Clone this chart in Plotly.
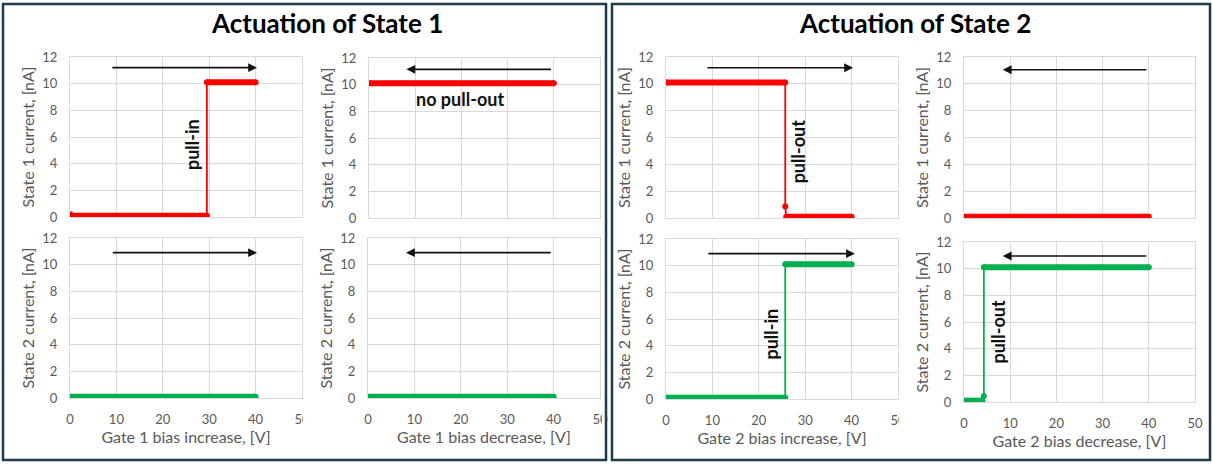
import plotly.graph_objects as go

W, H = 1213, 466

# ---------------- data ----------------
# State 1 current vs Gate 1 bias increase / decrease
s1_g1_inc_x = [0, 0.4, 29.5, 29.5, 40]
s1_g1_inc_y = [0.2, 0.1, 0.1, 10.1, 10.1]
s1_g1_dec_x = [0, 40]
s1_g1_dec_y = [10.1, 10.1]
# State 2 current vs Gate 1 bias increase / decrease
s2_g1_inc_x = [0, 40]
s2_g1_inc_y = [0.1, 0.1]
s2_g1_dec_x = [0, 40]
s2_g1_dec_y = [0.1, 0.1]
# State 1 current vs Gate 2 bias increase / decrease
s1_g2_inc_x = [0, 25.7, 25.7, 25.9, 40]
s1_g2_inc_y = [10.1, 10.1, 0.85, 0.1, 0.1]
s1_g2_dec_x = [0, 40]
s1_g2_dec_y = [0.1, 0.1]
# State 2 current vs Gate 2 bias increase / decrease
s2_g2_inc_x = [0, 25.7, 25.7, 40]
s2_g2_inc_y = [0.1, 0.1, 10.1, 10.1]
s2_g2_dec_x = [0, 4.0, 4.3, 4.3, 40]
s2_g2_dec_y = [0.1, 0.1, 0.45, 10.1, 10.1]

# sweep-direction arrows (one per sub-chart)
arrow_from_x = [8.8, 39.7, 8.9, 39.7, 8.6, 39.8, 8.8, 39.8]
arrow_to_x = [40.3, 8.1, 40.3, 8.2, 40.3, 8.4, 40.7, 8.4]
arrow_y = [11.2, 11.15, 10.9, 10.9, 11.2, 11.05, 10.9, 10.95]

panel_titles = ["Actuation of State 1", "Actuation of State 2"]
y_titles = ["State 1 current, [nA]", "State 1 current, [nA]",
            "State 2 current, [nA]", "State 2 current, [nA]",
            "State 1 current, [nA]", "State 1 current, [nA]",
            "State 2 current, [nA]", "State 2 current, [nA]"]
x_titles = ["", "", "Gate 1 bias increase, [V]", "Gate 1 bias decrease, [V]",
            "", "", "Gate 2 bias increase, [V]", "Gate 2 bias decrease, [V]"]
x_ticks = [0, 10, 20, 30, 40, 50]
y_ticks = [0, 2, 4, 6, 8, 10, 12]

note_text = ["pull-in", "no pull-out", "pull-out", "pull-in", "pull-out"]
note_panel = [0, 1, 4, 6, 7]
note_x = [26.3, 19.6, 28.4, 22.6, 7.4]
note_y = [5.4, 8.9, 4.95, 4.9, 5.3]
note_angle = [-90, 0, -90, -90, -90]

RED = "#ff0000"
GREEN = "#00b050"
curves = [
    (s1_g1_inc_x, s1_g1_inc_y, RED),
    (s1_g1_dec_x, s1_g1_dec_y, RED),
    (s2_g1_inc_x, s2_g1_inc_y, GREEN),
    (s2_g1_dec_x, s2_g1_dec_y, GREEN),
    (s1_g2_inc_x, s1_g2_inc_y, RED),
    (s1_g2_dec_x, s1_g2_dec_y, RED),
    (s2_g2_inc_x, s2_g2_inc_y, GREEN),
    (s2_g2_dec_x, s2_g2_dec_y, GREEN),
]

# ---------------- layout (pixel boxes of plot areas) ----------------
boxes = [(70, 302, 57, 217), (369, 600, 58, 218), (70, 302, 238, 398), (368, 600, 238, 398),
         (666, 898, 57, 218), (964, 1195, 57, 218), (666, 898, 239, 399), (964, 1195, 242, 402)]

FONT = "Lato, 'Open Sans', sans-serif"
GREY = "#595959"
GRID = "#d9d9d9"

fig = go.Figure()
layout = dict(width=W, height=H, margin=dict(l=0, r=0, t=0, b=0, autoexpand=False),
              paper_bgcolor="white", plot_bgcolor="white", showlegend=False,
              font=dict(family=FONT, color=GREY))

annotations = []
for i, (bx0, bx1, by0, by1) in enumerate(boxes):
    xa = "xaxis" if i == 0 else f"xaxis{i+1}"
    ya = "yaxis" if i == 0 else f"yaxis{i+1}"
    xr = "x" if i == 0 else f"x{i+1}"
    yr = "y" if i == 0 else f"y{i+1}"
    bottom = x_titles[i] != ""
    layout[xa] = dict(domain=[bx0 / W, bx1 / W], anchor=yr, range=[0, 50], automargin=False,
                      tickvals=x_ticks, showticklabels=bottom,
                      tickfont=dict(size=13, color=GREY),
                      ticklabelstandoff=9,
                      showgrid=True, gridcolor=GRID, gridwidth=1, zeroline=False,
                      showline=True, linecolor=GRID, mirror=True, ticks="",
                      title=dict(text=x_titles[i], font=dict(size=16, color=GREY), standoff=5))
    layout[ya] = dict(domain=[1 - by1 / H, 1 - by0 / H], anchor=xr, range=[0, 12], automargin=False,
                      tickvals=y_ticks, tickfont=dict(size=13, color=GREY),
                      ticklabelstandoff=9,
                      showgrid=True, gridcolor=GRID, gridwidth=1, zeroline=False,
                      showline=True, linecolor=GRID, mirror=True, ticks="",
                      title=dict(text=y_titles[i], font=dict(size=16, color=GREY), standoff=3))

    cx, cy, col = curves[i]
    # thin connecting line through all points
    fig.add_trace(go.Scatter(x=cx, y=cy, mode="lines", line=dict(color=col, width=1.8),
                             xaxis=xr, yaxis=yr, hoverinfo="skip"))
    # thick plateau runs (dense measured points look like a thick band)
    run_x, run_y = [cx[0]], [cy[0]]
    for k in range(1, len(cx)):
        if abs(cy[k] - cy[k - 1]) < 0.3:
            run_x.append(cx[k]); run_y.append(cy[k])
        else:
            if len(run_x) > 1:
                fig.add_trace(go.Scatter(x=run_x, y=run_y, mode="lines",
                                         line=dict(color=col, width=6),
                                         xaxis=xr, yaxis=yr, hoverinfo="skip"))
            run_x, run_y = [cx[k]], [cy[k]]
    if len(run_x) > 1:
        fig.add_trace(go.Scatter(x=run_x, y=run_y, mode="lines",
                                 line=dict(color=col, width=6),
                                 xaxis=xr, yaxis=yr, hoverinfo="skip"))
    fig.add_trace(go.Scatter(x=cx, y=cy, mode="markers", marker=dict(color=col, size=6),
                             xaxis=xr, yaxis=yr))

    annotations.append(dict(x=arrow_to_x[i], y=arrow_y[i], ax=arrow_from_x[i], ay=arrow_y[i],
                            xref=xr, yref=yr, axref=xr, ayref=yr, text="", showarrow=True,
                            arrowhead=2, arrowsize=1.1, arrowwidth=1.6, arrowcolor="#111111"))

for t, p, nx, ny, ang in zip(note_text, note_panel, note_x, note_y, note_angle):
    xr = "x" if p == 0 else f"x{p+1}"
    yr = "y" if p == 0 else f"y{p+1}"
    annotations.append(dict(x=nx, y=ny, xref=xr, yref=yr, text=f"<b>{t}</b>", showarrow=False,
                            textangle=ang, font=dict(size=18, color="#111111", family=FONT)))

for k, t in enumerate(panel_titles):
    annotations.append(dict(x=[327, 915][k] / W, y=1 - 23 / H, xref="paper", yref="paper",
                            text=f"<b>{t}</b>", showarrow=False, xanchor="center", yanchor="middle",
                            font=dict(size=26, color="#000000", family=FONT)))

layout["annotations"] = annotations

shapes = []
# crop of the "50" labels at the chart-picture edges
for (mx0, mx1, my0, my1) in [(303, 313, 406, 430), (602, 606, 406, 430), (899, 910, 407, 431)]:
    shapes.append(dict(type="rect", xref="paper", yref="paper", x0=mx0 / W, x1=mx1 / W,
                       y0=1 - my1 / H, y1=1 - my0 / H, fillcolor="white", line=dict(width=0),
                       layer="above"))
# panel frames
for (fx0, fx1) in [(3, 606), (612, 1210)]:
    shapes.append(dict(type="rect", xref="paper", yref="paper", x0=fx0 / W, x1=fx1 / W,
                       y0=1 - 460 / H, y1=1 - 4 / H, line=dict(color="#1f3a4a", width=2.5),
                       fillcolor="rgba(0,0,0,0)", layer="above"))
layout["shapes"] = shapes

fig.update_layout(**layout)
fig.write_html("out.html", config={"displayModeBar": False},
               post_script="document.body.style.margin='0';document.body.style.overflow='hidden';")
